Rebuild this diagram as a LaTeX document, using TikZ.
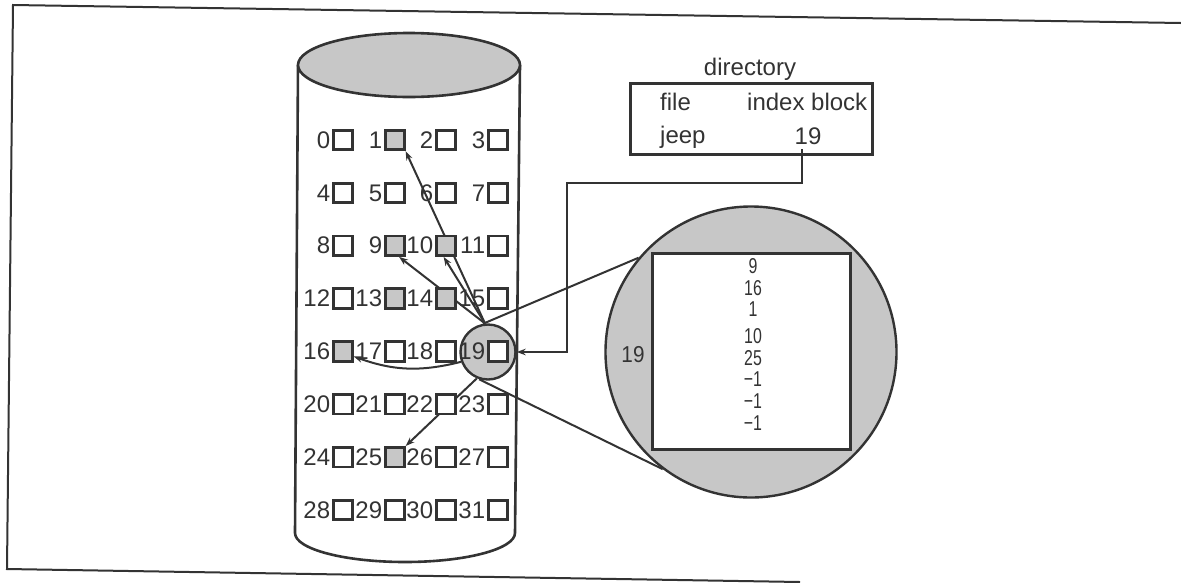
\documentclass[tikz,border=0pt]{standalone}
\usepackage{fontspec}
\setmainfont{Liberation Sans}
\usetikzlibrary{arrows.meta}
\definecolor{ink}{gray}{0.2}
\definecolor{shade}{gray}{0.78}
\pgfdeclarelayer{bg}
\pgfsetlayers{bg,main}
\begin{document}
\begin{tikzpicture}[x=1pt,y=-1pt,
  font=\fontsize{24}{28}\selectfont,
  txt/.style={inner sep=0pt, text=ink},
  blk/.style={draw=ink, line width=2.8pt, fill=white, minimum width=18.5pt, minimum height=19.5pt, inner sep=0pt},
  lbl/.style={anchor=east, inner sep=0pt, text=ink},
  st1/.style={fill=shade}, st9/.style={fill=shade}, st10/.style={fill=shade},
  st13/.style={fill=shade}, st14/.style={fill=shade}, st16/.style={fill=shade},
  st25/.style={fill=shade},
  cyl/.style={draw=ink, line width=2.6pt},
  arr/.style={draw=ink, line width=2pt, -{Stealth[length=9pt,width=6.5pt]}},
  ln/.style={draw=ink, line width=2pt},
  frame/.style={draw=ink, line width=2pt},
  lst/.style={txt, anchor=base, font=\fontsize{21.5}{25}\selectfont}]
\useasboundingbox (0,0) rectangle (1181,582);
% outer frame of the scanned figure
\draw[frame] (1181,23) -- (13,5) -- (7,569) -- (800,582);

\begin{pgfonlayer}{bg}
  % disk cylinder
  \draw[cyl] (298,65) -- (295,533) arc[start angle=180, end angle=0, x radius=110, y radius=29] -- (520,65);
  \draw[cyl, fill=shade] (409,65) ellipse [x radius=111, y radius=32];
  % highlighted block 19
  \node[circle, draw=ink, line width=2.4pt, fill=shade, minimum size=55pt, inner sep=0pt] (c19) at (488,352) {};
\end{pgfonlayer}

% blocks
\foreach \i in {0,...,31}{
  \pgfmathtruncatemacro\r{div(\i,4)}
  \pgfmathtruncatemacro\c{mod(\i,4)}
  \pgfmathsetmacro\bx{{343,395,446,498}[\c]}
  \pgfmathsetmacro\by{140+52.857*\r}
  \node[blk, st\i/.try] (b\i) at (\bx,\by) {};
  \node[lbl] (l\i) at ([xshift=-2pt]b\i.west) {\i};
}

% magnified index block
\node[circle, draw=ink, line width=2.4pt, fill=shade, minimum size=291pt, inner sep=0pt] (big) at (751,352) {};
\node[draw=ink, line width=2.8pt, fill=white, minimum width=198pt, minimum height=196pt, inner sep=0pt] (idx) at (751.5,351.5) {};
\node[txt, font=\fontsize{23}{26}\selectfont] (t19) at (633,355) {\scalebox{0.9}[1]{19}};
\node[lst] (e1) at (753,273) {\scalebox{0.74}[1]{9}};
\node[lst] (e2) at (753,295) {\scalebox{0.74}[1]{16}};
\node[lst] (e3) at (753,316) {\scalebox{0.74}[1]{1}};
\node[lst] (e4) at (753,343) {\scalebox{0.74}[1]{10}};
\node[lst] (e5) at (753,365) {\scalebox{0.74}[1]{25}};
\node[lst] (e6) at (753,386) {\scalebox{0.74}[1]{−1}};
\node[lst] (e7) at (753,408) {\scalebox{0.74}[1]{−1}};
\node[lst] (e8) at (753,430) {\scalebox{0.74}[1]{−1}};

% directory
\node[txt, anchor=base] (dirt) at (750,75) {directory};
\node[draw=ink, line width=2.8pt, minimum width=242pt, minimum height=71pt, inner sep=0pt] (dir) at (751.5,119) {};
\node[txt, anchor=base west] (hf) at (660,110) {file};
\node[txt, anchor=base west] (hi) at (747,110) {index block};
\node[txt, anchor=base west] (fj) at (660,143) {jeep};
\node[txt, anchor=base] (n19) at (808,144) {19};

\coordinate (k0) at (802,149);
\coordinate (k1) at (802,183);
\coordinate (k2) at (567,183);

\begin{pgfonlayer}{bg}
  \draw[arr] (k0) -- (k1) -- (k2) |- (c19.east);
  \draw[arr] (c19.96) -- (b1.south east);
  \draw[arr] (c19.96) -- (b10.258);
  \draw[arr] (c19.96) -- (b9.290);
  \draw[arr] (c19.200) to[bend left=17] (b16.335);
  \draw[arr] (c19.247) -- (b25.north east);
  \draw[ln] (c19.100) -- (big.140);
  \draw[ln] (c19.252) -- (big.233);
\end{pgfonlayer}
\end{tikzpicture}
\end{document}
